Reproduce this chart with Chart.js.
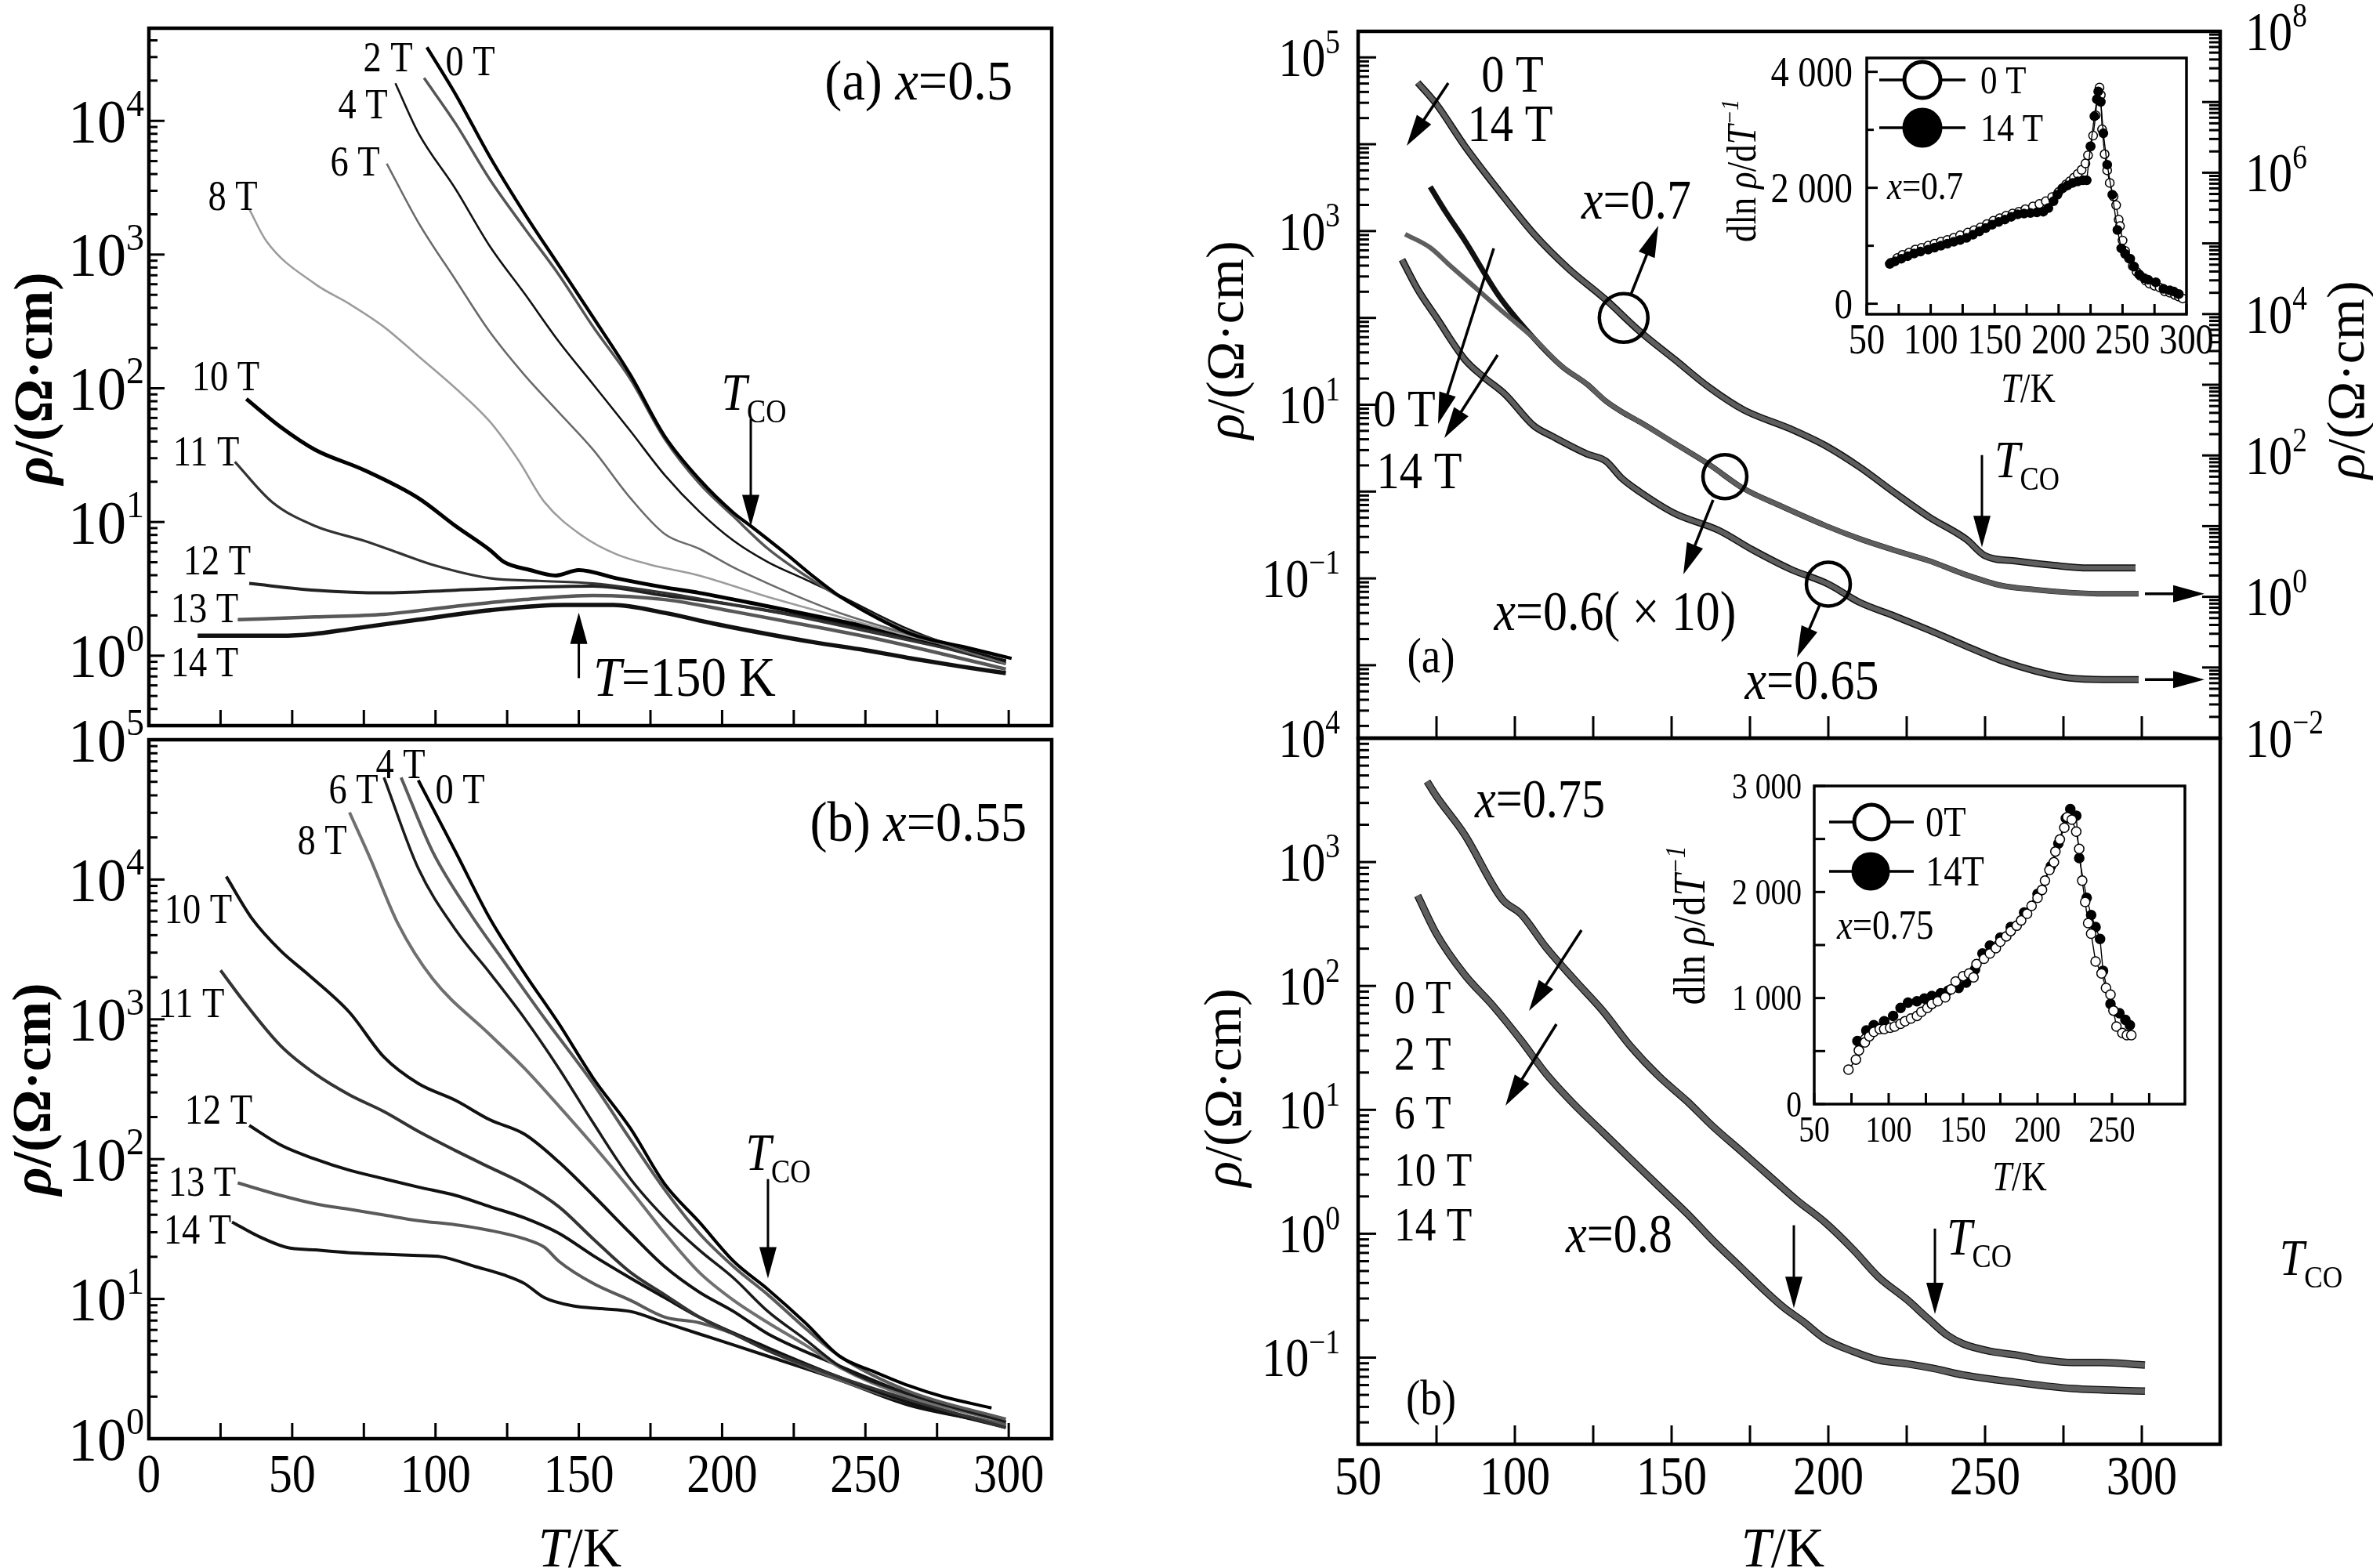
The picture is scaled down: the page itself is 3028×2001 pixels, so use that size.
<!DOCTYPE html>
<html><head><meta charset="utf-8">
<script src="https://cdn.jsdelivr.net/npm/chart.js@4.4.1/dist/chart.umd.min.js"></script>
<style>
html,body{margin:0;padding:0;background:#fff;}
#wrap{position:relative;width:3028px;height:2001px;overflow:hidden;background:#fff;}
#wrap canvas{position:absolute;left:0;top:0;}
</style></head><body><div id="wrap"></div>
<script>
// ================= DATA =================
// Left (a) x = 0.5 : temperature (K) and resistivity (Ohm cm) per field
const la_T_0T  = [97,107,119,131,143,155,168,180,192,204,210,223,232,240,249,266,284,301];
const la_R_0T  = [35500,15800,5370,2040,832,339,126,43.7,20.9,11.7,9.33,5.62,3.89,2.88,2.19,1.45,1.17,0.955];
const la_T_2T  = [96,107,119,131,143,155,168,180,192,204,216,229,241,253,265,277,299];
const la_R_2T  = [20900,9550,3630,1580,708,288,117,41.7,19.5,11.0,6.31,3.98,2.75,2.00,1.51,1.26,0.977];
const la_T_4T  = [86,94,107,119,131,143,155,168,180,192,204,216,229,241,253,265,277,299];
const la_R_4T  = [19100,8130,3090,1150,513,224,107,47.9,22.4,12.0,7.24,5.01,3.72,2.82,2.09,1.58,1.26,0.912];
const la_T_6T  = [83,94,107,119,131,143,155,168,180,192,204,216,229,241,265,299];
const la_R_6T  = [4790,1740,646,263,126,66.1,34.7,15.1,8.13,6.31,4.57,3.47,2.63,2.09,1.45,0.871];
const la_T_8T  = [35,41,58,70,82,94,107,119,129,138,151,163,175,192,216,241,265,299];
const la_R_8T  = [2190,1260,603,427,288,174,100,56.2,28.8,14.1,7.94,5.75,4.79,3.98,2.75,1.95,1.41,0.955];
const la_T_10T = [34,46,58,75,94,107,119,124,133,142,150,163,180,192,216,241,265,299];
const la_R_10T = [83.2,51.3,34.7,24.5,15.1,9.33,6.17,5.01,4.37,3.98,4.37,3.80,3.24,2.95,2.34,1.82,1.41,0.912];
const la_T_11T = [30,43,58,75,87,99,119,136,155,180,204,229,253,299];
const la_R_11T = [28.2,14.1,9.33,7.24,5.89,4.79,3.80,3.63,3.47,2.95,2.40,1.91,1.48,0.912];
const la_T_12T = [35,58,82,107,131,155,180,204,229,253,299];
const la_R_12T = [3.47,3.09,2.95,3.09,3.24,3.31,2.82,2.40,1.95,1.55,0.871];
const la_T_13T = [31,58,82,107,131,155,180,204,229,253,299];
const la_R_13T = [1.86,1.95,2.04,2.34,2.63,2.82,2.63,2.14,1.70,1.35,0.794];
const la_T_14T = [17,46,57,70,94,119,145,162,180,197,216,232,250,266,283,299];
const la_R_14T = [1.41,1.41,1.45,1.58,1.86,2.19,2.40,2.40,2.09,1.74,1.45,1.26,1.10,0.955,0.832,0.741];

// Left (b) x = 0.55
const lb_T_0T  = [94,107,119,131,143,155,168,180,192,204,216,229,241,253,265,277,294];
const lb_R_0T  = [51300,15800,5250,2140,933,380,166,66.1,35.5,18.6,11.7,6.76,3.89,3.02,2.40,2.00,1.66];
const lb_T_4T  = [88,99,112,124,138,155,168,180,192,204,216,229,241,265,299];
const lb_R_4T  = [53700,15800,5750,2570,1020,347,138,60.3,29.5,17.0,10.7,6.17,3.89,2.19,1.38];
const lb_T_6T  = [82,94,107,119,131,143,155,168,180,192,204,216,229,241,265,299];
const lb_R_6T  = [53700,12000,4370,2140,1020,447,182,72.4,38.0,22.4,14.1,8.13,5.13,3.31,2.09,1.32];
const lb_T_8T  = [70,77,87,99,119,131,143,155,168,180,192,204,216,229,241,265,299];
const lb_R_8T  = [30200,14500,4790,1950,776,447,240,126,60.3,29.5,15.5,9.77,6.76,4.68,3.24,2.00,1.32];
const lb_T_10T = [27,36,46,55,70,82,94,107,119,131,143,155,168,180,192,204,216,241,265,299];
const lb_R_10T = [10500,5250,3090,2140,1120,537,347,263,191,151,95.5,55.0,29.5,17.0,11.2,8.13,5.62,3.31,2.09,1.32];
const lb_T_11T = [25,33,46,58,70,82,94,107,119,131,143,155,168,180,192,204,216,241,265,299];
const lb_R_11T = [2240,1350,646,407,288,219,158,115,87.1,66.1,45.7,26.9,15.5,10.7,7.41,5.62,4.27,2.75,1.91,1.20];
const lb_T_12T = [35,46,58,70,82,94,107,119,131,143,155,168,180,192,216,241,265,299];
const lb_R_12T = [174,126,100,83.2,72.4,63.1,55.0,45.7,38.0,29.5,20.4,14.1,10.2,7.41,4.47,2.75,1.82,1.20];
const lb_T_13T = [31,46,58,70,82,94,107,119,131,138,143,155,168,180,192,204,216,241,265,299];
const lb_R_13T = [67.6,55.0,47.9,43.7,39.8,36.3,33.9,30.9,26.9,23.4,18.6,12.9,9.77,7.41,6.76,5.62,4.27,2.63,1.82,1.26];
const lb_T_14T = [29,38,48,58,70,82,94,102,114,124,131,138,148,158,168,180,192,204,216,241,265,299];
const lb_R_14T = [35.5,28.2,23.4,22.4,21.4,20.9,20.4,20.0,17.0,14.8,12.9,10.2,8.91,8.51,8.13,6.76,5.62,4.68,3.89,2.63,1.74,1.26];

// Right (a): x = 0.7 (left axis), x = 0.6 (x10) and x = 0.65 (right axis)
const ra_T_x07 = [69,75,84,95,106,117,129,140,151,162,173,188,199,210,221,232,244,250,260,272,283,298];
const ra_R_x07 = [51300,28800,9550,2880,933,372,162,69.2,33.1,15.8,8.71,5.25,3.39,1.91,0.977,0.513,0.282,0.182,0.158,0.141,0.132,0.132];
const ra_T_x06_14T = [65,73,79,88,97,106,115,123,129,134,140,151,162,173,185,199,210,221,232,244,255,266,277,288,299];
const ra_R_x06_14T = [135000,87100,50100,22400,10000,4570,1820,1020,589,417,295,148,74.1,33.9,19.1,10.2,6.61,4.57,3.24,2.04,1.45,1.26,1.15,1.10,1.10];
const ra_T_x06_0T = [73,78,84,95,106,115,123,129,134,140,151,162,173,185,199,210,221,232,244,255,266,277,288,299];
const ra_R_x06_0T = [631000,275000,110000,17800,4570,1820,1020,589,417,295,148,74.1,33.9,19.1,10.2,6.61,4.57,3.24,2.04,1.45,1.26,1.15,1.10,1.10];
const ra_T_x065 = [64,69,75,84,90,97,106,112,123,129,134,140,151,165,176,188,200,210,221,232,244,255,266,277,288,299];
const ra_R_x065 = [58900,22400,8910,2290,1290,724,263,186,105,83.2,47.9,30.2,15.1,8.71,4.57,2.45,1.51,0.832,0.537,0.339,0.200,0.126,0.0891,0.0708,0.0676,0.0676];

// Right (b): x = 0.75 and x = 0.8 (0-14 T curves coincide)
const rb_T_x075 = [72,75,84,96,102,110,119,128,137,146,155,163,172,181,190,199,208,216,225,232,238,243,252,260,269,278,287,301];
const rb_R_x075 = [4470,3390,1660,500,380,204,112,63.1,32.4,18.6,11.7,7.41,4.68,2.95,1.86,1.23,0.741,0.447,0.295,0.204,0.151,0.129,0.112,0.105,0.0955,0.0912,0.0912,0.0871];
const rb_T_x08 = [69,75,84,93,102,110,119,128,137,146,155,163,172,181,186,192,199,208,216,225,234,243,260,278,301];
const rb_R_x08 = [537,263,123,69.2,36.3,19.5,11.0,6.61,3.98,2.40,1.45,0.891,0.537,0.324,0.251,0.195,0.141,0.112,0.0955,0.0891,0.0813,0.0724,0.0631,0.0562,0.0537];

// Inset 1 (x = 0.7): d ln rho / d T^-1
const in1_T_0T = [69,74,78,83,88,93,98,103,108,113,118,123,129,134,139,144,149,154,159,164,169,174,180,185,190,195,200,203,206,209,212,215,218,221,223,225,227,229,230,232,233,234,236,238,240,243,245,247,248,250,252,255,258,261,264,268,271,275,279,283,287,291,294,297];
const in1_V_0T = [708,790,843,880,934,965,1001,1035,1069,1100,1137,1180,1227,1270,1317,1375,1430,1475,1520,1555,1588,1630,1678,1720,1768,1840,1926,1990,2061,2115,2174,2240,2309,2420,2560,2715,2900,3250,3527,3730,3600,3008,2580,2300,2084,1850,1700,1450,1340,1091,911,780,650,550,480,400,347,310,280,212,190,150,122,90];
const in1_T_14T = [68,72,77,82,87,92,98,103,108,113,118,123,128,133,138,143,148,153,158,163,168,173,178,183,188,192,196,199,203,207,211,215,219,222,225,228,230,231,233,235,238,242,246,249,252,256,259,263,267,270,276,282,287,290,294];
const in1_V_14T = [686,730,776,820,866,900,934,968,1001,1035,1069,1100,1137,1190,1249,1305,1362,1410,1452,1500,1542,1555,1565,1575,1588,1650,1768,1880,1993,2040,2084,2110,2129,2129,2715,3234,3527,3662,3482,2940,2399,1881,1272,956,860,776,640,505,440,415,370,257,230,212,167];

// Inset 2 (x = 0.75)
const in2_T_0T = [73,78,80,84,87,90,94,97,101,104,108,111,115,119,122,126,129,133,138,142,145,150,154,157,159,164,168,172,175,179,182,186,189,193,196,200,203,205,208,211,212,215,218,220,223,226,228,230,232,234,236,239,243,246,249,251,253,257,260,263];
const in2_V_0T = [325,420,507,582,640,682,707,707,720,732,757,782,807,832,870,907,945,970,1007,1082,1157,1207,1232,1195,1320,1370,1420,1470,1532,1582,1632,1682,1732,1795,1870,1945,2020,2107,2207,2282,2382,2495,2607,2707,2682,2570,2407,2107,1907,1707,1607,1345,1232,1095,1032,882,732,670,650,650];
const in2_T_14T = [79,85,90,97,103,108,113,119,124,129,135,140,147,152,158,163,168,175,182,191,200,209,214,219,222,226,228,233,236,239,242,244,249,255,259,262];
const in2_V_14T = [595,695,745,782,832,907,957,970,995,1020,1045,1070,1095,1145,1270,1420,1495,1570,1670,1807,1982,2245,2457,2695,2782,2720,2320,1945,1782,1670,1557,1257,945,857,795,745];

// Tick values and labels
const la_yTicks = [1,10,100,1000,10000];
const la_yLabels = ['10^{0}','10^{1}','10^{2}','10^{3}','10^{4}'];
const lb_yTicks = [1,10,100,1000,10000,100000];
const lb_yLabels = ['10^{0}','10^{1}','10^{2}','10^{3}','10^{4}','10^{5}'];
const l_xTicks = [0,50,100,150,200,250,300];
const l_xLabels = ['0','50','100','150','200','250','300'];
const l_xMinor = [25,75,125,175,225,275];
const ra_yTicks = [0.01,0.1,1,10,100,1000,10000,100000];
const ra_yLabels = ['','10^{\u22121}','','10^{1}','','10^{3}','','10^{5}'];
const ra_y2Ticks = [0.01,0.1,1,10,100,1e3,1e4,1e5,1e6,1e7,1e8];
const ra_y2Labels = ['10^{\u22122}','','10^{0}','','10^{2}','','10^{4}','','10^{6}','','10^{8}'];
const rb_yTicks = [0.1,1,10,100,1000,10000];
const rb_yLabels = ['10^{\u22121}','10^{0}','10^{1}','10^{2}','10^{3}','10^{4}'];
const r_xTicks = [50,100,150,200,250,300];
const r_xLabels = ['50','100','150','200','250','300'];
const r_xMinor = [75,125,175,225,275];
const in1_yTicks = [0,2000,4000];
const in1_yLabels = ['0','2 000','4 000'];
const in1_yMinor = [1000,3000];
const in2_yTicks = [0,1000,2000,3000];
const in2_yLabels = ['0','1 000','2 000','3 000'];
const in2_yMinor = [500,1500,2500];
const in_xTicks = [50,100,150,200,250,300];
const in_xLabels = ['50','100','150','200','250','300'];
const in_xMinor = [75,125,175,225,275];

// ================= RENDERING =================
const W = 3028, H = 2001;
const FONT = '"Liberation Serif","Times New Roman",serif';
const COND = 0.86;
const TICK = 70;

function parseRich(str){
  const segs=[]; let it=false, buf='';
  const flush=()=>{ if(buf){ segs.push({t:buf,i:it,m:'n'}); buf=''; } };
  for(let k=0;k<str.length;k++){
    const c=str[k];
    if(c==='*'){ flush(); it=!it; continue; }
    if((c==='^'||c==='_') && str[k+1]==='{'){
      flush(); const j=str.indexOf('}',k);
      segs.push({t:str.slice(k+2,j), i:it, m:c==='^'?'sup':'sub'}); k=j; continue;
    }
    buf+=c;
  }
  flush(); return segs;
}
function drawRich(ctx, str, x, y, o){
  const size=o.size, cond=(o.cond==null?COND:o.cond), segs=parseRich(str);
  ctx.save();
  ctx.translate(x,y); if(o.rot) ctx.rotate(o.rot); ctx.scale(cond,1);
  ctx.fillStyle='#000'; ctx.textAlign='left'; ctx.textBaseline='alphabetic';
  const fnt=s=>(s.i?'italic ':'')+(o.bold?'bold ':'')+(s.m==='n'?size:size*(o.ss||0.62)).toFixed(1)+'px '+FONT;
  let tot=0; const ws=segs.map(s=>{ctx.font=fnt(s); const w=ctx.measureText(s.t).width; tot+=w; return w;});
  let cx=o.align==='left'?0:(o.align==='right'?-tot:-tot/2);
  const base=size*0.34;
  segs.forEach((s,k)=>{
    ctx.font=fnt(s);
    let dy=base;
    if(s.m==='sup') dy=base-size*0.42; else if(s.m==='sub') dy=base+size*0.24;
    ctx.fillText(s.t,cx,dy); cx+=ws[k];
  });
  ctx.restore();
}
function arrow(ctx,x1,y1,x2,y2,lw,hl,hw){
  lw=lw||3; hl=hl||40; hw=hw||11;
  const an=Math.atan2(y2-y1,x2-x1), c=Math.cos(an), s=Math.sin(an);
  const bx=x2-hl*c, by=y2-hl*s;
  ctx.save(); ctx.strokeStyle='#000'; ctx.fillStyle='#000'; ctx.lineWidth=lw;
  ctx.beginPath(); ctx.moveTo(x1,y1); ctx.lineTo(bx+2*c,by+2*s); ctx.stroke();
  ctx.beginPath(); ctx.moveTo(x2,y2); ctx.lineTo(bx+hw*s,by-hw*c); ctx.lineTo(bx-hw*s,by+hw*c); ctx.closePath(); ctx.fill();
  ctx.restore();
}
function ring(ctx,x,y,r,lw){
  ctx.save(); ctx.strokeStyle='#000'; ctx.lineWidth=lw||4.5;
  ctx.beginPath(); ctx.arc(x,y,r,0,Math.PI*2); ctx.stroke(); ctx.restore();
}
function frame(ch,ctx,lw){
  const a=ch.chartArea; ctx.save(); ctx.strokeStyle='#000'; ctx.lineWidth=lw;
  ctx.strokeRect(a.left,a.top,a.right-a.left,a.bottom-a.top); ctx.restore();
}
function logMinor(lo,hi){
  const out=[];
  for(let e=Math.floor(Math.log10(lo)); e<=Math.ceil(Math.log10(hi)); e++)
    for(let m=2;m<=9;m++){ const v=m*Math.pow(10,e); if(v>=lo&&v<=hi) out.push(v); }
  return out;
}
function drawAxis(ch,ctx,sp){
  const a=ch.chartArea, sc=ch.scales[sp.id];
  const lo=Math.min(sc.min,sc.max), hi=Math.max(sc.min,sc.max);
  const inR=v=>v>=lo-Math.abs(lo)*1e-6-1e-9 && v<=hi+Math.abs(hi)*1e-6+1e-9;
  ctx.save(); ctx.strokeStyle='#000'; ctx.lineWidth=sp.lw||3;
  const mark=(v,len)=>{
    if(!inR(v)) return;
    const p=sc.getPixelForValue(v);
    ctx.beginPath();
    if(sp.edge==='bottom'){ ctx.moveTo(p,a.bottom); ctx.lineTo(p,a.bottom-len); }
    else if(sp.edge==='left'){ ctx.moveTo(a.left,p); ctx.lineTo(a.left+len,p); }
    else { ctx.moveTo(a.right,p); ctx.lineTo(a.right-len,p); }
    ctx.stroke();
  };
  (sp.minor||[]).forEach(v=>mark(v,sp.minLen));
  sp.major.forEach(v=>mark(v,sp.majLen));
  ctx.restore();
  sp.major.forEach((v,i)=>{
    const lab=(sp.labels||[])[i]; if(!lab||!inR(v)) return;
    const p=sc.getPixelForValue(v);
    const o={size:sp.size,cond:sp.cond};
    if(sp.edge==='bottom') drawRich(ctx,lab,p,a.bottom+sp.off,Object.assign(o,{align:'center'}));
    else if(sp.edge==='left') drawRich(ctx,lab,a.left-sp.off,p,Object.assign(o,{align:'right'}));
    else drawRich(ctx,lab,a.right+sp.off,p,Object.assign(o,{align:'left'}));
  });
}
function notes(ctx,list){ list.forEach(n=>drawRich(ctx,n[0],n[1],n[2],{size:n[3],align:n[4],cond:n[5]})); }
const pts=(T,R)=>T.map((t,i)=>({x:t,y:R[i]}));
function curve(label,T,R,color,width,yAxisID){
  return {label,data:pts(T,R),borderColor:color,borderWidth:width,pointRadius:0,fill:false,
    cubicInterpolationMode:'monotone',yAxisID:yAxisID||'y',xAxisID:'x'};
}
function marks(label,T,V,filled,r){
  return {label,data:pts(T,V),borderColor:'#000',borderWidth:1.4,pointRadius:r,pointBorderWidth:1.5,
    pointBackgroundColor:filled?'#000':'#fff',pointBorderColor:'#000',pointStyle:'circle',tension:0,showLine:true};
}
const wrap=document.getElementById('wrap');
function makeChart(cfg){
  const cv=document.createElement('canvas');
  cv.width=W; cv.height=H; cv.style.width=W+'px'; cv.style.height=H+'px';
  wrap.appendChild(cv);
  const scales={};
  for(const id in cfg.scales){
    const s=cfg.scales[id];
    scales[id]={type:s.type,position:s.position,min:s.min,max:s.max,
      grid:{display:false,drawTicks:false},border:{display:false},
      ticks:{display:false},title:{display:false},
      afterFit:sc=>{ if(sc.isHorizontal()) sc.height=0; else sc.width=0; }};
  }
  return new Chart(cv,{
    type:'line',
    data:{datasets:cfg.datasets},
    options:{responsive:false,animation:false,events:[],
      layout:{padding:{left:cfg.box.l,top:cfg.box.t,right:W-cfg.box.r,bottom:H-cfg.box.b}},
      plugins:{legend:{display:false},tooltip:{enabled:false}},
      scales,elements:{point:{radius:0}}},
    plugins:[{id:'deco_'+cfg.name,
      beforeDatasetsDraw:ch=>{ if(cfg.bg){ const a=ch.chartArea; ch.ctx.save(); ch.ctx.fillStyle='#fff'; ch.ctx.fillRect(a.left,a.top,a.right-a.left,a.bottom-a.top); ch.ctx.restore(); } },
      afterDraw:ch=>cfg.draw(ch,ch.ctx)}]
  });
}
const RHO='*\u03c1*/(\u03a9\u00b7cm)';
const TK='*T*/K';
const ROT=-Math.PI/2;

// ---------- Left (a) ----------
makeChart({name:'la',box:{l:190,r:1342,t:36,b:926},
  scales:{x:{type:'linear',position:'bottom',min:0,max:315},y:{type:'logarithmic',position:'left',min:0.305,max:49300}},
  datasets:[
    curve('0 T',la_T_0T,la_R_0T,'#000',4.2),
    curve('2 T',la_T_2T,la_R_2T,'#555',3.5),
    curve('4 T',la_T_4T,la_R_4T,'#111',2.6),
    curve('6 T',la_T_6T,la_R_6T,'#6a6a6a',2.6),
    curve('8 T',la_T_8T,la_R_8T,'#9c9c9c',2.6),
    curve('14 T',la_T_14T,la_R_14T,'#111',5.5),
    curve('10 T',la_T_10T,la_R_10T,'#000',5),
    curve('11 T',la_T_11T,la_R_11T,'#333',3.2),
    curve('12 T',la_T_12T,la_R_12T,'#222',4),
    curve('13 T',la_T_13T,la_R_13T,'#585858',4.5)
  ],
  draw:(ch,ctx)=>{
    frame(ch,ctx,4.5);
    drawAxis(ch,ctx,{id:'y',edge:'left',major:la_yTicks,labels:la_yLabels,minor:logMinor(0.305,49300),majLen:20,minLen:11,off:6,size:78,cond:0.95});
    drawAxis(ch,ctx,{id:'x',edge:'bottom',major:l_xTicks,labels:[],minor:l_xMinor,majLen:20,minLen:20});
    notes(ctx,[['2 T',495,73,54,'center'],['0 T',600,78,54,'center'],['4 T',463,133,54,'center'],['6 T',453,206,54,'center'],
      ['8 T',297,250,54,'center'],['10 T',288,480,54,'center'],['11 T',263,576,54,'center'],['12 T',277,715,54,'center'],
      ['13 T',261,776,54,'center'],['14 T',261,845,54,'center'],['(a) *x*=0.5',1292,103,72,'right',0.92],
      ['*T*_{CO}',962,500,68,'center'],['*T*=150 K',757,864,72,'left',0.9]]);
    const X=ch.scales.x, Y=ch.scales.y;
    arrow(ctx,X.getPixelForValue(210),Y.getPixelForValue(59),X.getPixelForValue(210),Y.getPixelForValue(9.3),3,40,11);
    arrow(ctx,X.getPixelForValue(150),Y.getPixelForValue(0.68),X.getPixelForValue(150),Y.getPixelForValue(2.1),3,40,11);
    drawRich(ctx,RHO,42,483,{size:70,align:'center',rot:ROT,bold:true,cond:1});
  }});

// ---------- Left (b) ----------
makeChart({name:'lb',box:{l:190,r:1342,t:944,b:1836},
  scales:{x:{type:'linear',position:'bottom',min:0,max:315},y:{type:'logarithmic',position:'left',min:1,max:100000}},
  datasets:[
    curve('0 T',lb_T_0T,lb_R_0T,'#000',4),
    curve('4 T',lb_T_4T,lb_R_4T,'#5a5a5a',4),
    curve('6 T',lb_T_6T,lb_R_6T,'#1a1a1a',3.5),
    curve('8 T',lb_T_8T,lb_R_8T,'#707070',4),
    curve('10 T',lb_T_10T,lb_R_10T,'#111',4),
    curve('11 T',lb_T_11T,lb_R_11T,'#333',4),
    curve('12 T',lb_T_12T,lb_R_12T,'#111',4),
    curve('13 T',lb_T_13T,lb_R_13T,'#5a5a5a',4),
    curve('14 T',lb_T_14T,lb_R_14T,'#111',4)
  ],
  draw:(ch,ctx)=>{
    frame(ch,ctx,4.5);
    drawAxis(ch,ctx,{id:'y',edge:'left',major:lb_yTicks,labels:lb_yLabels,minor:logMinor(1,100000),majLen:20,minLen:11,off:6,size:78,cond:0.95});
    drawAxis(ch,ctx,{id:'x',edge:'bottom',major:l_xTicks,labels:l_xLabels,minor:l_xMinor,majLen:20,minLen:20,off:44,size:TICK});
    notes(ctx,[['4 T',511,975,54,'center'],['6 T',451,1007,54,'center'],['0 T',587,1007,54,'center'],['8 T',411,1072,54,'center'],
      ['10 T',253,1160,54,'center'],['11 T',244,1280,54,'center'],['12 T',279,1416,54,'center'],['13 T',258,1508,54,'center'],
      ['14 T',252,1569,54,'center'],['(b) *x*=0.55',1310,1049,72,'right',0.92],['*T*_{CO}',993,1470,68,'center']]);
    const X=ch.scales.x, Y=ch.scales.y;
    arrow(ctx,X.getPixelForValue(216),Y.getPixelForValue(72),X.getPixelForValue(216),Y.getPixelForValue(14),3,40,11);
    drawRich(ctx,RHO,40,1390,{size:70,align:'center',rot:ROT,bold:true,cond:1});
    drawRich(ctx,TK,740,1975,{size:72,align:'center',cond:0.95});
  }});

// ---------- Right (a) ----------
makeChart({name:'ra',box:{l:1733,r:2833,t:40,b:942},
  scales:{x:{type:'linear',position:'bottom',min:50,max:325},
    y:{type:'logarithmic',position:'left',min:0.001445,max:199500},
    y2:{type:'logarithmic',position:'right',min:0.01,max:1e8}},
  datasets:[
    curve('x=0.7 14 T',ra_T_x07,ra_R_x07,'#5e5e5e',6),
    curve('x=0.6 14 T',ra_T_x06_14T,ra_R_x06_14T,'#5e5e5e',6,'y2'),
    curve('x=0.65 14 T',ra_T_x065,ra_R_x065,'#5e5e5e',6,'y2'),
    curve('x=0.7 0 T',ra_T_x07,ra_R_x07,'#111',9),
    curve('x=0.6 0 T',ra_T_x06_0T,ra_R_x06_0T,'#111',7,'y2'),
    curve('x=0.65 0 T',ra_T_x065,ra_R_x065,'#111',9,'y2')
  ],
  draw:(ch,ctx)=>{
    frame(ch,ctx,4.5);
    drawAxis(ch,ctx,{id:'y',edge:'left',major:ra_yTicks,labels:ra_yLabels,minor:logMinor(0.001445,199500),majLen:23,minLen:14,off:23,size:TICK});
    drawAxis(ch,ctx,{id:'y2',edge:'right',major:ra_y2Ticks,labels:ra_y2Labels,minor:logMinor(0.01,1e8),majLen:23,minLen:14,off:32,size:TICK});
    drawAxis(ch,ctx,{id:'x',edge:'bottom',major:r_xTicks,labels:[],minor:r_xMinor,majLen:28,minLen:28});
    notes(ctx,[['0 T',1930,94,68,'center'],['14 T',1927,157,68,'center'],['*x*=0.7',2088,255,72,'center'],
      ['0 T',1792,521,68,'center'],['14 T',1811,600,68,'center'],['*x*=0.6( \u00d7 10)',2061,780,72,'center'],
      ['*x*=0.65',2312,868,72,'center'],['(a)',1826,836,64,'center'],['*T*_{CO}',2545,586,68,'left']]);
    const X=ch.scales.x, Y=ch.scales.y, Y2=ch.scales.y2;
    arrow(ctx,1848,106,1795,186,3.5,40,11);
    arrow(ctx,1906,317,1835,541,3.5,40,11);
    arrow(ctx,1911,453,1843,559,3.5,40,11);
    ring(ctx,X.getPixelForValue(134.7),Y.getPixelForValue(100),31,4.5);
    arrow(ctx,2081,376,2116,288,3.5,40,11);
    ring(ctx,X.getPixelForValue(167),Y2.getPixelForValue(50.1),28,4.5);
    arrow(ctx,2186,638,2148,733,3.5,40,11);
    ring(ctx,X.getPixelForValue(200),Y2.getPixelForValue(1.51),28,4.5);
    arrow(ctx,2322,772,2293,839,3.5,40,11);
    arrow(ctx,X.getPixelForValue(249),Y.getPixelForValue(2.63),X.getPixelForValue(249),Y.getPixelForValue(0.229),3,40,11);
    arrow(ctx,X.getPixelForValue(301),Y2.getPixelForValue(1.10),X.getPixelForValue(320),Y2.getPixelForValue(1.10),3.5,40,11);
    arrow(ctx,X.getPixelForValue(301),Y2.getPixelForValue(0.0676),X.getPixelForValue(320),Y2.getPixelForValue(0.0676),3.5,40,11);
    drawRich(ctx,RHO,1563,434,{size:68,align:'center',rot:ROT,cond:1});
    drawRich(ctx,RHO,2993,485,{size:68,align:'center',rot:ROT,cond:1});
  }});

// ---------- Right (b) ----------
makeChart({name:'rb',box:{l:1733,r:2833,t:942,b:1843},
  scales:{x:{type:'linear',position:'bottom',min:50,max:325},y:{type:'logarithmic',position:'left',min:0.02,max:10000}},
  datasets:[
    curve('x=0.75 14 T',rb_T_x075,rb_R_x075,'#5e5e5e',7),
    curve('x=0.8 14 T',rb_T_x08,rb_R_x08,'#5e5e5e',7),
    curve('x=0.75 0 T',rb_T_x075,rb_R_x075,'#111',9.5),
    curve('x=0.8 0 T',rb_T_x08,rb_R_x08,'#111',9.5)
  ],
  draw:(ch,ctx)=>{
    frame(ch,ctx,4.5);
    drawAxis(ch,ctx,{id:'y',edge:'left',major:rb_yTicks,labels:rb_yLabels,minor:logMinor(0.02,10000),majLen:23,minLen:14,off:23,size:TICK});
    drawAxis(ch,ctx,{id:'x',edge:'bottom',major:r_xTicks,labels:r_xLabels,minor:r_xMinor,majLen:24,minLen:24,off:40,size:TICK});
    notes(ctx,[['*x*=0.75',1965,1019,70,'center'],['0 T',1779,1272,62,'left'],['2 T',1779,1344,62,'left'],['6 T',1779,1419,62,'left'],
      ['10 T',1779,1492,62,'left'],['14 T',1779,1562,62,'left'],['*x*=0.8',2066,1574,70,'center'],['*T*_{CO}',2484,1578,68,'left'],
      ['(b)',1826,1783,64,'center'],['*T*_{CO}',2949,1605,66,'center']]);
    const X=ch.scales.x, Y=ch.scales.y;
    arrow(ctx,2018,1187,1951,1290,3.5,40,11);
    arrow(ctx,1986,1307,1921,1411,3.5,40,11);
    arrow(ctx,X.getPixelForValue(189),Y.getPixelForValue(1.17),X.getPixelForValue(189),Y.getPixelForValue(0.251),3,40,11);
    arrow(ctx,X.getPixelForValue(234),Y.getPixelForValue(1.10),X.getPixelForValue(234),Y.getPixelForValue(0.224),3,40,11);
    drawRich(ctx,RHO,1560,1388,{size:68,align:'center',rot:ROT,cond:1});
    drawRich(ctx,TK,2275,1975,{size:72,align:'center',cond:0.95});
  }});

// ---------- Inset 1 ----------
function legend(ctx,x1,x2,cx,cy,r,filled,text,tx,size){
  ctx.save(); ctx.strokeStyle='#000'; ctx.lineWidth=3.5;
  ctx.beginPath(); ctx.moveTo(x1,cy); ctx.lineTo(x2,cy); ctx.stroke();
  ctx.beginPath(); ctx.arc(cx,cy,r,0,Math.PI*2); ctx.fillStyle=filled?'#000':'#fff'; ctx.fill();
  ctx.lineWidth=5; ctx.stroke(); ctx.restore();
  drawRich(ctx,text,tx,cy,{size,align:'left'});
}
makeChart({name:'in1',bg:true,box:{l:2382,r:2790,t:74,b:401},
  scales:{x:{type:'linear',position:'bottom',min:50,max:300},y:{type:'linear',position:'left',min:-181,max:4239}},
  datasets:[
    marks('14 T',in1_T_14T,in1_V_14T,true,5.5),
    marks('0 T',in1_T_0T,in1_V_0T,false,5.5)
  ],
  draw:(ch,ctx)=>{
    frame(ch,ctx,3.5);
    drawAxis(ch,ctx,{id:'y',edge:'left',major:in1_yTicks,labels:in1_yLabels,minor:in1_yMinor,majLen:14,minLen:9,off:18,size:54});
    drawAxis(ch,ctx,{id:'x',edge:'bottom',major:in_xTicks,labels:in_xLabels,minor:in_xMinor,majLen:13,minLen:13,off:32,size:54});
    legend(ctx,2398,2508,2453,102,23,false,'0 T',2527,50);
    legend(ctx,2398,2508,2453,163,23,true,'14 T',2527,50);
    drawRich(ctx,'*x*=0.7',2408,237,{size:50,align:'left'});
    drawRich(ctx,'dln *\u03c1*/d*T^{\u22121}*',2222,218,{size:52,align:'center',rot:ROT});
    drawRich(ctx,TK,2588,495,{size:52,align:'center'});
  }});

// ---------- Inset 2 ----------
makeChart({name:'in2',bg:true,box:{l:2315,r:2788,t:1003,b:1409},
  scales:{x:{type:'linear',position:'bottom',min:50,max:299},y:{type:'linear',position:'left',min:0,max:3000}},
  datasets:[
    marks('0T',in2_T_0T,in2_V_0T,false,6),
    marks('14T',in2_T_14T,in2_V_14T,true,6)
  ],
  draw:(ch,ctx)=>{
    frame(ch,ctx,3.5);
    drawAxis(ch,ctx,{id:'y',edge:'left',major:in2_yTicks,labels:in2_yLabels,minor:in2_yMinor,majLen:14,minLen:14,off:16,size:46});
    drawAxis(ch,ctx,{id:'x',edge:'bottom',major:in_xTicks,labels:in_xLabels,minor:in_xMinor,majLen:14,minLen:14,off:32,size:46});
    legend(ctx,2334,2442,2388,1049,22,false,'0T',2457,54);
    legend(ctx,2334,2442,2387,1112,22,true,'14T',2457,54);
    drawRich(ctx,'*x*=0.75',2344,1180,{size:52,align:'left'});
    drawRich(ctx,'dln *\u03c1*/d*T^{\u22121}*',2155,1181,{size:58,align:'center',rot:ROT});
    drawRich(ctx,TK,2577,1501,{size:52,align:'center'});
  }});
</script></body></html>
